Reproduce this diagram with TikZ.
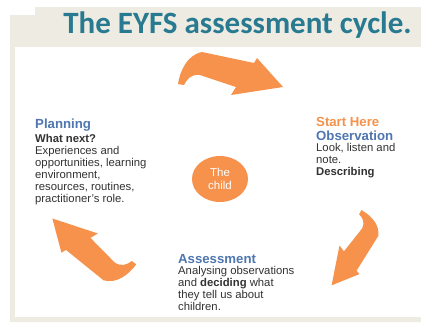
\documentclass[tikz,border=0pt]{standalone}
\usepackage{fontspec}
\setmainfont{Liberation Sans}
\newfontfamily\titlefont{Carlito}
\usetikzlibrary{positioning,shapes.geometric}

\definecolor{framebeige}{RGB}{238,235,226}
\definecolor{titleteal}{RGB}{40,122,145}
\definecolor{cycleorange}{RGB}{246,146,76}
\definecolor{headblue}{RGB}{78,118,176}
\definecolor{bodygray}{RGB}{50,50,50}

% outline of one bent arrow, tail at the left, head at the right
\def\arrowOutline{(-52,-1) .. controls (-50,-14) and (-43,-30) .. (-28,-33)
  -- (24,-22) -- (27,-27) -- (53,2) -- (1,10) -- (6,2) -- (-30,-10)
  .. controls (-39,-11) and (-43,-6) .. (-46,0) -- cycle}

\tikzset{
  heading/.style={anchor=base west,inner sep=0pt,text=headblue,
    font=\fontsize{13.2}{14}\selectfont\bfseries},
  stagetext/.style={anchor=north west,inner sep=0pt,align=left,text=bodygray,
    font=\fontsize{11.3}{12}\selectfont},
  bentarrow/.style={fill=cycleorange,draw=none}
}

\begin{document}
\begin{tikzpicture}[x=1pt,y=-1pt]
  \useasboundingbox (0,0) rectangle (421,322);

  % frame and title band
  \fill[framebeige] (10,15) -- (10,322) -- (421,322) -- (421,7) -- (35,7) -- (35,15) -- cycle;
  \fill[white] (15,47) rectangle (421,317);
  \node[anchor=base,inner sep=0pt,text=titleteal,font=\titlefont\fontsize{31}{32}\selectfont\bfseries]
    (title) at (237.5,33) {The EYFS assessment cycle.};

  % the child in the middle
  \node[ellipse,fill=cycleorange,minimum width=56pt,minimum height=46pt,inner sep=0pt,
    align=center,text=white,font=\fontsize{11.5}{13}\selectfont] (child) at (220,179) {The\\child};

  % arrows of the cycle
  \begin{scope}[shift={(230,85)}]
    \fill[bentarrow] \arrowOutline;
  \end{scope}
  \begin{scope}[shift={(347,247.5)},rotate=-110,scale=0.77]
    \fill[bentarrow] \arrowOutline;
  \end{scope}
  \begin{scope}[shift={(94.5,242)},rotate=-207,scale=0.91]
    \fill[bentarrow] \arrowOutline;
  \end{scope}

  % planning
  \node[heading] (planhead) at (35,128) {Planning};
  \node[stagetext] (plantext) [below=3pt of planhead.south west,anchor=north west]
    {\textbf{What next?}\\Experiences and\\opportunities, learning\\environment,\\resources, routines,\\practitioner's role.};

  % observation
  \node[heading,text=cycleorange] (start) at (316,126.5) {Start Here};
  \node[heading] (obshead) at (316,140) {Observation};
  \node[stagetext] (obstext) [below=3pt of obshead.south west,anchor=north west]
    {Look, listen and\\note.\\\textbf{Describing}};

  % assessment
  \node[heading] (asshead) at (178,263) {Assessment};
  \node[stagetext] (asstext) [below=3pt of asshead.south west,anchor=north west]
    {Analysing observations\\and \textbf{deciding} what\\they tell us about\\children.};
\end{tikzpicture}
\end{document}
